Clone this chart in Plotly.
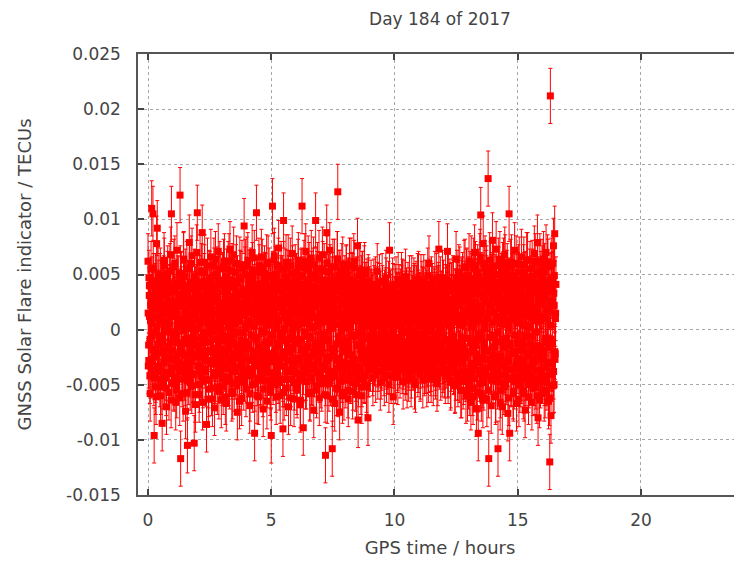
import plotly.graph_objects as go

# ---- data -----------------------------------------------------------------
# Solar-flare indicator in units of 1e-4 TECU, three interleaved epoch sets,
# each sampled every 0.025 h, starting at 0, 0.0125 and 0.00625 h respectively.
TIME_STEP_HOURS = 0.025
SET_START_HOURS = [0.0, 0.0125, 0.00625]

SFI_A_1E4 = [
    # hour 0
    62, -14, 31, -42, 8, 55, 110, -27, 105, 19, -96, -3, 44, -61, 78, 92, 12, -35, 27, -8,
    49, -52, 6, -85, 23, -19, 63, -44, 15, 38, -70, 2, 51, -26, -57, 34, -11, 68, 105, -39,
    # hour 1
    21, -48, 57, -5, 36, -66, 13, 72, -30, 41, -22, 9, 122, -117, 46, -37, 25, -58, 64, -9,
    30, -74, 17, 55, -105, 4, -43, 79, 28, -16, 60, -51, 37, -24, 11, -103, 48, -68, 22, 70,
    # hour 2
    106, -33, 18, -59, 42, 7, -21, 53, 88, -46, 29, -12, 61, -38, 14, -86, 35, -4, -63, 47,
    20, -29, 66, -53, 8, 39, -17, 58, -71, 26, -40, 3, 50, -25, 71, -56, 16, -9, 43, -64,
    # hour 3
    -18, 45, -52, 24, 62, -31, 10, -67, 37, -6, 55, -44, 19, 73, -27, 1, -58, 40, -14, 68,
    -49, 28, -35, 52, -2, -75, 33, 12, -47, 59, -23, 46, -62, 15, 31, -39, 94, -11, 57, -54,
    # hour 4
    26, -41, 63, -15, 38, -69, 5, 49, -28, 70, -50, 17, 34, -94, 22, -7, 106, -60, 41, -33,
    58, -19, 9, -46, 66, -24, 30, -72, 13, 51, -37, 44, -11, -65, 27, 60, -29, 6, -53, 39,
    # hour 5
    -96, 32, 112, -43, 18, 67, -25, 50, -61, 8, 36, -14, 74, -48, 21, -33, 55, -3, 42, -90,
    99, -57, 27, -20, 61, -38, 12, 47, -70, 30, -9, 58, -45, 16, 69, -30, 40, -63, 4, 52,
    # hour 6
    -27, 44, -55, 19, 63, -12, 35, -68, 48, 7, 112, -40, -89, 56, -22, 29, 71, -47, 14, -31,
    60, -6, 38, -58, 23, 65, -35, 2, 49, -73, 33, -17, 99, -51, 26, 54, -28, 11, -62, 45,
    # hour 7
    -15, 37, -49, 68, 21, -36, 53, -8, -114, 30, 88, -60, 16, 43, -26, 72, -44, 9, 34, -108,
    57, -19, 25, -67, 40, 5, -53, 64, 125, 18, 47, -75, -30, -12, 31, -41, 59, 2, -57, 36,
    # hour 8
    24, -46, 52, -18, 39, -63, 11, 58, -33, 27, -5, 45, -56, 17, 62, -28, 33, -49, 8, 41,
    76, -82, 20, -37, 54, -14, 29, -60, 46, 3, -24, 51, -42, 15, 36, -52, 10, -80, 40, -21,
    # hour 9
    12, -31, 38, -19, 27, -44, 6, 33, -25, 41, -12, 22, 53, -38, 15, -7, 35, -48, 20, -28,
    44, -16, 9, -35, 29, -3, 47, -41, 18, -22, 31, -50, 72, -9, 25, -33, 13, 40, -61, 8,
    # hour 10
    -20, 34, -42, 11, 26, -30, 45, -8, 19, -37, 30, -14, 4, 39, -47, 23, -26, 14, 48, -33,
    7, -19, 36, -40, 28, -5, 16, -45, 42, -24, 10, 33, -29, 21, -50, 37, -11, 25, -36, 46,
    # hour 11
    -15, 27, -38, 43, -4, 18, -46, 31, -22, 12, 38, -33, 5, -27, 49, -41, 60, -10, 24, -35,
    41, -18, 15, -44, 32, -6, 20, -30, 44, -49, 9, 36, 73, -25, 17, -39, 28, -13, 47, -32,
    # hour 12
    20, -37, 11, 45, -28, 33, 71, -42, 16, -9, 39, -48, 25, -17, 8, 42, -34, 19, -51, 30,
    64, -23, 37, -45, 13, -30, 50, -12, 28, -55, 41, 6, -38, 56, -25, 17, -60, 48, -8, 35,
    # hour 13
    -47, 62, -20, 29, -66, 44, 10, -53, 58, -31, 70, -14, 36, -72, 21, 52, -94, 15, -40, 66,
    104, -58, 33, -25, 78, -48, 6, 60, -35, 47, -63, 24, 137, -117, 39, -20, 55, -69, 31, 81,
    # hour 14
    -42, 57, -16, 35, -61, 73, 9, -37, -108, 50, -26, 64, -55, 22, 44, -70, 13, 58, -32, 68,
    -49, 28, -11, 53, -76, 38, 105, -94, 19, -44, 61, -22, 47, -58, 10, 72, -35, 26, -67, 43,
    # hour 15
    -28, 52, -63, 17, 40, -45, 66, -19, 31, -56, 59, 4, -73, 46, -34, 25, 63, -50, 12, -24,
    55, -41, 36, -66, 20, 48, -30, 69, -52, 8, 43, -60, 79, -80, 30, -17, 62, -46, 23, -38,
    # hour 16
    51, -27, 64, -58, 33, -12, 70, -44, 18, 57, -65, 39, -120, 212, -78, 45, -31, 60, 76, -50,
    87, -22, 41,
]

SFI_B_1E4 = [
    # hour 0
    -33, 47, 12, -58, 25, -6, 41, -29, 56, -44, 18, 35, -52, 3, 29, -21, 50, -38, 9, 44,
    -60, 22, -11, 37, -47, 15, 58, -25, 4, -53, 31, 46, -17, 26, -40, 53, -2, -64, 19, 40,
    # hour 1
    -27, 36, -49, 60, -8, 23, -55, 14, 42, -34, 7, -62, 51, -19, 32, -45, 27, 63, -12, -39,
    48, -24, 10, -57, 38, 1, -30, 55, -48, 20, -14, 67, -41, 28, -6, 45, -59, 16, 34, -22,
    # hour 2
    43, -16, 29, -50, 61, -37, 8, 24, -66, 39, -3, 52, -28, 17, -45, 33, 58, -20, -54, 12,
    46, -31, 2, 37, -63, 25, -9, 49, -42, 64, -18, 30, -52, 6, 41, -26, 55, -36, 21, -7,
    # hour 3
    -44, 18, 57, -23, 35, -61, 10, 48, -35, 26, -13, 62, -47, 5, 39, -29, 53, -56, 22, -4,
    44, -38, 15, 60, -51, 31, -20, 8, -65, 47, 24, -33, 56, -10, 36, -48, 13, 50, -27, 3,
    # hour 4
    59, -42, 20, -15, 47, -58, 32, 6, -36, 54, -24, 14, 65, -49, 28, -8, 40, -30, 11, -61,
    52, 19, -43, 34, -2, 57, -54, 25, -19, 45, -35, 9, 61, -46, 17, -27, 49, -12, 30, -57,
    # hour 5
    23, -5, 46, -39, 63, -22, 13, -50, 37, 4, -31, 58, -14, 27, -60, 42, -7, 33, -45, 16,
    55, -26, 1, 48, -53, 29, -16, 61, -37, 10, 38, -62, 20, -3, 51, -33, 26, -48, 44, -11,
    # hour 6
    32, -52, 15, 57, -28, 40, -9, -64, 24, 49, -41, 6, 35, -19, 62, -47, 18, -6, 43, -36,
    27, 54, -57, 11, -24, 46, -44, 3, 59, -32, 21, -13, 50, -55, 36, 8, -39, 65, -21, 14,
    # hour 7
    -46, 38, -17, 55, -33, 22, 7, -59, 45, -25, 60, -10, 30, -49, 16, 52, -38, 1, 41, -63,
    26, -20, 57, -42, 12, 36, -28, 64, -54, 19, -7, 47, -35, 29, 53, -60, 9, 34, -15, 42,
    # hour 8
    -30, 51, -12, 37, -55, 20, 44, -40, 6, 58, -23, 31, -48, 14, 56, -34, 25, -5, -59, 40,
    17, -45, 49, -14, 33, -52, 8, 46, -27, 22, -41, 54, -8, 28, -50, 39, -19, 43, -36, 11,
    # hour 9
    -22, 30, -8, 24, -35, 17, 39, -26, 5, -41, 28, -14, 36, -31, 11, 43, -19, 21, -38, 2,
    33, -24, 14, -44, 26, -6, 40, -29, 19, -12, 37, -34, 9, 29, -42, 16, -21, 35, -4, 23,
    # hour 10
    -36, 13, 41, -18, 27, -43, 6, 34, -28, 20, -10, 45, -33, 15, -24, 38, -2, -39, 25, 31,
    -46, 9, 18, -30, 42, -15, 3, -37, 28, 12, -25, 40, -47, 22, -7, 33, -20, 44, -32, 10,
    # hour 11
    26, -40, 19, -11, 37, -27, 8, 43, -35, 14, -21, 31, -45, 24, 2, -32, 39, -16, 22, -41,
    11, 35, -26, 17, -8, 46, -38, 27, -13, 32, -44, 20, 4, -29, 41, -17, 25, -36, 13, 38,
    # hour 12
    -23, 16, -42, 34, -9, 27, -37, 44, -18, 21, 5, -46, 36, -27, 14, 40, -33, 9, -50, 30,
    -15, 47, -39, 23, 52, -26, 11, -55, 38, -7, 45, -47, 26, -19, 57, -40, 17, 49, -58, 31,
    # hour 13
    24, -53, 46, -12, 60, -36, 18, -61, 39, 7, -44, 55, -22, 33, -57, 13, 48, -30, 62, -49,
    21, -8, 42, -64, 29, -18, 56, -41, 10, 51, -27, 37, -55, 16, 63, -34, 23, -46, 45, -5,
    # hour 14
    -38, 50, -16, 30, -59, 41, 12, -47, 58, -24, 35, -66, 19, 44, -31, 54, -10, -52, 27, 61,
    -40, 8, 47, -29, 22, -62, 39, -14, 57, -45, 15, 33, -56, 49, -20, 26, -43, 60, -33, 6,
    # hour 15
    45, -26, 59, -50, 14, 37, -39, 23, -12, 52, -58, 30, 4, -44, 63, -21, 41, -61, 18, 48,
    -35, 26, -6, 56, -53, 11, 39, -28, 62, -47, 20, -15, 51, -37, 34, -64, 9, 46, -23, 57,
    # hour 16
    -42, 28, -19, 53, -55, 36, 10, -48, 61, -30, 17, -62, 44, -9, 58, -40, 25, -51, 33, 49,
    -27, 15,
]

SFI_C_1E4 = [
    # hour 0
    15, -28, 40, -9, 22, -37, 5, 31, -18, 44, -24, 11, -41, 27, 2, -33, 38, -13, 19, -45,
    29, -6, 35, -21, 8, 42, -30, 16, -2, -39, 24, 33, -15, 6, -26, 41, -11, 20, -35, 12,
    # hour 1
    -19, 36, -4, 25, -43, 14, 39, -27, 3, -12, 30, -38, 21, 45, -16, 7, -31, 26, -1, 37,
    -44, 18, -23, 10, 34, -8, -36, 28, 13, -20, 43, -29, 4, 23, -40, 17, -10, 32, -25, 1,
    # hour 2
    27, -14, 38, -33, 9, 20, -42, 31, -7, 16, -25, 44, -3, -36, 24, 12, -19, 35, -46, 6,
    29, -11, 41, -28, 18, -2, 33, -39, 14, -22, 37, 4, -31, 26, -15, 43, -37, 10, 21, -5,
    # hour 3
    -32, 19, 7, -24, 40, -10, 28, -43, 15, 34, -18, 2, 45, -29, 22, -8, -38, 30, 11, -21,
    39, -34, 5, 25, -14, 42, -26, 17, -45, 9, 32, -3, -30, 23, -17, 36, -40, 13, 1, 28,
    # hour 4
    -13, 33, -36, 8, 21, -27, 44, -5, 16, -41, 30, -20, 3, 38, -32, 12, -9, 26, -44, 35,
    -16, 7, 41, -23, 19, -37, 28, -2, 14, -30, 45, -12, 24, -39, 4, 31, -22, 10, 37, -47,
    # hour 5
    22, -6, 34, -29, 13, 43, -19, 1, -35, 27, 9, -42, 36, -14, 20, -25, 40, -3, -33, 17,
    31, -45, 11, 24, -10, 38, -28, 6, 42, -21, 15, -38, 29, -7, 35, -17, 2, 26, -31, 18,
    # hour 6
    -40, 25, -11, 37, 4, -26, 19, -46, 32, 8, -18, 41, -34, 14, -2, 29, -39, 23, 44, -15,
    6, -30, 35, -8, 17, -43, 27, 11, -22, 39, -36, 3, 21, -12, 46, -27, 9, 33, -41, 15,
    # hour 7
    28, -20, 7, 42, -33, 16, -4, 36, -44, 21, 12, -28, 39, -9, 25, -38, 3, 31, -17, 45,
    -24, 10, -40, 34, 19, -13, 27, -35, 5, 40, -26, 14, -47, 30, -1, 23, -32, 38, 8, -19,
    # hour 8
    35, -10, 24, -37, 13, 40, -23, 2, -42, 29, 18, -31, 44, -6, -27, 33, 9, -40, 22, -14,
    38, -3, 15, -34, 27, -19, 42, -45, 11, 30, -21, 6, 36, -29, 17, -8, 26, -36, 3, 32,
    # hour 9
    -16, 22, -5, 29, -24, 11, -31, 18, 3, -19, 26, -10, 32, -27, 8, 15, -22, 28, -1, -30,
    20, -13, 24, 6, -26, 31, -8, 17, -33, 12, 27, -18, 4, -23, 19, -6, 30, -15, 9, -28,
    # hour 10
    14, -21, 30, -7, 23, -32, 10, -14, 27, -25, 5, 33, -18, 21, -29, 12, -3, 28, -34, 16,
    25, -11, -27, 19, 2, 31, -20, 13, -9, 24, -30, 7, 35, -16, 22, -24, 11, -5, 29, -19,
    # hour 11
    8, 26, -28, 15, -12, 32, -21, 4, 24, -33, 18, -7, 29, -17, 10, -26, 34, -2, 21, -31,
    13, -23, 27, 6, -15, 30, -35, 17, -4, 25, -20, 11, 33, -27, 2, 20, -12, 28, -24, 14,
    # hour 12
    -29, 19, -10, 31, -22, 7, 27, -36, 13, 35, -16, 3, -31, 24, -6, 38, -27, 15, 29, -39,
    10, -19, 36, -12, 22, -41, 33, 4, -28, 40, -17, 26, -43, 11, 37, -24, 18, -38, 30, -8,
    # hour 13
    41, -21, 12, -40, 30, 3, -33, 44, -15, 24, -44, 17, 36, -9, -28, 39, 8, -37, 22, -4,
    45, -26, 14, -46, 32, -12, 27, 1, -35, 42, -19, 10, -42, 34, -7, 20, -31, 43, 6, -23,
    # hour 14
    29, -38, 16, 43, -11, -30, 25, -3, 38, -45, 11, 33, -24, 5, -41, 28, 18, -16, 46, -34,
    21, -8, -43, 35, 2, -27, 40, -14, 24, -36, 9, 44, -20, 31, -47, 15, -5, 37, -29, 19,
    # hour 15
    -12, 34, -33, 22, 7, -42, 40, -18, 13, -28, 45, -6, 27, -39, 17, 31, -23, 3, -46, 36,
    -14, 24, 42, -31, 10, -19, 38, -44, 20, -2, 33, -26, 15, 41, -37, 8, -21, 29, -40, 26,
    # hour 16
    37, -25, 12, -44, 30, -8, 43, -34, 19, -16, 39, -41, 25, 4, -30, 35, -12, 46, -38, 22,
    -20, 10,
]
SFI_UNCERTAINTY = 0.0025  # half-length of the error bars, TECU

X_TICK_VALUES = [0, 5, 10, 15, 20]
X_TICK_LABELS = ["0", "5", "10", "15", "20"]
Y_TICK_VALUES = [-0.015, -0.01, -0.005, 0, 0.005, 0.01, 0.015, 0.02, 0.025]
Y_TICK_LABELS = ["-0.015", "-0.01", "-0.005", "0", "0.005", "0.01", "0.015", "0.02", "0.025"]

TITLE = "Day 184 of 2017"
X_TITLE = "GPS time / hours"
Y_TITLE = "GNSS Solar Flare indicator / TECUs"

# ---- derived arrays --------------------------------------------------------
hours, sfi = [], []
for start, values in zip(SET_START_HOURS, [SFI_A_1E4, SFI_B_1E4, SFI_C_1E4]):
    hours += [round(start + i * TIME_STEP_HOURS, 5) for i in range(len(values))]
    sfi += [v / 1e4 for v in values]

RED = "#ff0000"
TEXT = "#444444"
FONT = "DejaVu Sans"

# The page body has an 8 px default margin, so the figure is drawn 8 px
# smaller than the 742x561 window and its margins are reduced accordingly.
FIG_W, FIG_H = 734, 553

fig = go.Figure()
fig.add_trace(go.Scatter(
    x=hours, y=sfi, mode="markers",
    marker=dict(symbol="square", size=7, color=RED, line=dict(width=0)),
    error_y=dict(type="constant", value=SFI_UNCERTAINTY, color=RED, thickness=1, width=2),
    showlegend=False,
))

fig.update_layout(
    width=FIG_W, height=FIG_H,
    margin=dict(l=130, r=0, t=46, b=66, pad=0, autoexpand=False),
    paper_bgcolor="white", plot_bgcolor="white",
    font=dict(family=FONT, size=17, color=TEXT),
    title=dict(text=TITLE, x=0.5, xref="paper", xanchor="center",
               y=1 - 11 / FIG_H, yref="container", yanchor="middle",
               font=dict(family=FONT, size=17, color=TEXT)),
)
fig.update_xaxes(
    range=[-0.406, 24.1], tickvals=X_TICK_VALUES, ticktext=X_TICK_LABELS,
    ticks="inside", ticklen=6, tickwidth=1.5, tickcolor="#444444",
    showline=True, linecolor="#555555", linewidth=1.5, mirror="ticks",
    showgrid=True, gridcolor="#a8a8a8", griddash="dot", gridwidth=1,
    zeroline=False, ticklabelstandoff=9, automargin=False,
    tickfont=dict(family=FONT, size=17, color=TEXT),
    title=dict(text=X_TITLE, standoff=12, font=dict(family=FONT, size=18, color=TEXT)),
)
fig.update_yaxes(
    range=[-0.015, 0.025], tickvals=Y_TICK_VALUES, ticktext=Y_TICK_LABELS,
    ticks="inside", ticklen=6, tickwidth=1.5, tickcolor="#444444",
    showline=True, linecolor="#555555", linewidth=1.5, mirror=False,
    showgrid=True, gridcolor="#a8a8a8", griddash="dot", gridwidth=1,
    zeroline=False, ticklabelstandoff=12, automargin=False,
    tickfont=dict(family=FONT, size=17, color=TEXT),
    title=dict(text=Y_TITLE, standoff=30, font=dict(family=FONT, size=18, color=TEXT)),
)

fig.write_html("out.html")
